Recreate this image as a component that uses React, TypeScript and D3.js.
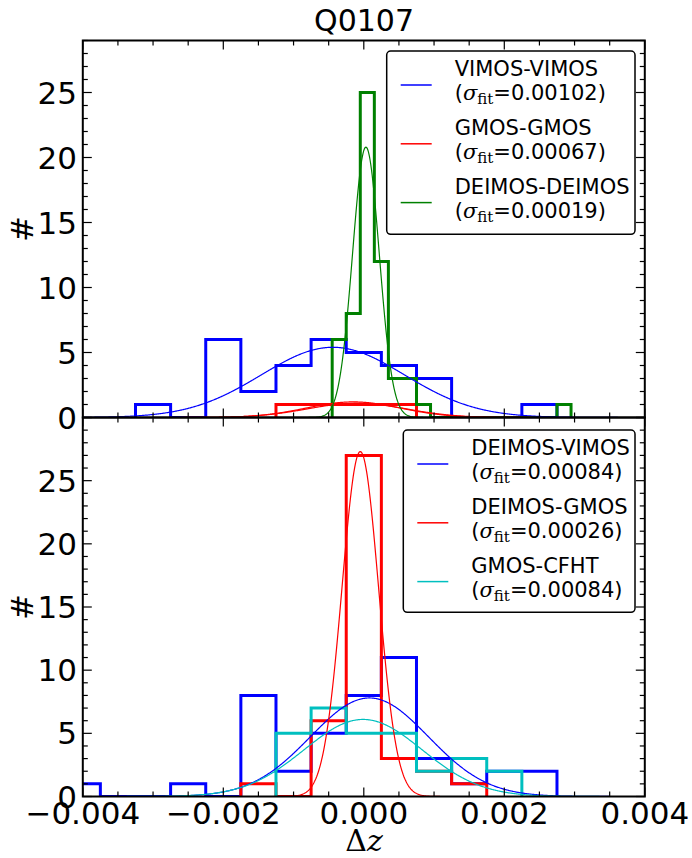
import React from 'react';
import * as d3 from 'd3';

// ---------- data ----------
const X_TICKS = [-0.004, -0.002, 0, 0.002, 0.004];
const X_TICK_LABELS = ['\u22120.004', '\u22120.002', '0.000', '0.002', '0.004'];
const Y_TICKS = [0, 5, 10, 15, 20, 25];
const Y_TICK_LABELS = ['0', '5', '10', '15', '20', '25'];

// top panel histograms (start edge, bin width, counts)
const vvStart = -0.00325;
const vvWidth = 0.0005;
const vvCounts = [1, 0, 6, 2, 4, 6, 5, 4, 3, 0, 0, 1];
const ggStart = -0.00125;
const ggWidth = 0.0005;
const ggCounts = [1, 1, 1, 1];
const ddStart = -0.00045;
const ddWidth = 0.0002;
const ddCounts = [6, 8, 25, 12, 3, 3, 1, 0, 0, 0, 0, 0, 0, 0, 0, 0, 1];

// bottom panel histograms
const dvStart = -0.00425;
const dvWidth = 0.0005;
const dvCounts = [1, 0, 0, 1, 0, 8, 2, 5, 8, 11, 3, 1, 2, 2];
const dgStart = -0.00175;
const dgWidth = 0.0005;
const dgCounts = [1, 0, 6, 27, 3, 2, 1];
const gcStart = -0.00125;
const gcWidth = 0.0005;
const gcCounts = [5, 7, 5, 5, 2, 3, 2];

// gaussian fit parameters
const topFitAmp = [5.4, 1.2, 1.1, 20.8];
const topFitMu = [-0.00044, -0.00015, -0.0001, 0.00003];
const topFitSigma = [0.00102, 0.00067, 0.0007, 0.00019];
const botFitAmp = [7.8, 27.3, 6.1];
const botFitMu = [0.00008, -0.00005, -0.00001];
const botFitSigma = [0.00084, 0.00026, 0.00084];

const topLegendNames = ['VIMOS-VIMOS', 'GMOS-GMOS', 'DEIMOS-DEIMOS'];
const topLegendSigma = ['0.00102', '0.00067', '0.00019'];
const botLegendNames = ['DEIMOS-VIMOS', 'DEIMOS-GMOS', 'GMOS-CFHT'];
const botLegendSigma = ['0.00084', '0.00026', '0.00084'];

const BLUE = '#0000ff';
const RED = '#ff0000';
const GREEN = '#008000';
const CYAN = '#00bfbf';

// ---------- layout ----------
const W = 692;
const H = 858;
const X0 = 82.8;
const X1 = 644.8;
const TOP_Y0 = 40.5;
const MID_Y = 417.5;
const BOT_Y1 = 796.5;
const SANS = 'DejaVu Sans, Liberation Sans, sans-serif';
const SERIF = 'DejaVu Serif, Liberation Serif, serif';

const x = d3.scaleLinear().domain([-0.004, 0.004]).range([X0, X1]);
const yTop = d3.scaleLinear().domain([0, 29]).range([MID_Y, TOP_Y0]);
const yBot = d3.scaleLinear().domain([0, 30]).range([BOT_Y1, MID_Y]);

function stepPath(start: number, width: number, counts: number[], y: d3.ScaleLinear<number, number>) {
  const pts: [number, number][] = [];
  pts.push([start, 0]);
  counts.forEach((c, i) => {
    pts.push([start + i * width, c]);
    pts.push([start + (i + 1) * width, c]);
  });
  pts.push([start + counts.length * width, 0]);
  const line = d3.line<[number, number]>().x((d) => x(d[0])).y((d) => y(d[1]));
  return line(pts) || '';
}

function gaussPath(a: number, mu: number, s: number, y: d3.ScaleLinear<number, number>) {
  const xs = d3.range(0, 801).map((i) => -0.004 + (i * 0.008) / 800);
  const line = d3
    .line<number>()
    .x((v) => x(v))
    .y((v) => y(a * Math.exp(-((v - mu) * (v - mu)) / (2 * s * s))))
    .curve(d3.curveLinear);
  return line(xs) || '';
}

function Frame({ y0, y1, yScale, showYLabels }: { y0: number; y1: number; yScale: d3.ScaleLinear<number, number>; showYLabels: boolean }) {
  const xMinor = d3.range(-0.004, 0.00401, 0.0005).map((v) => Math.round(v * 1e5) / 1e5);
  const yMax = yScale.domain()[1];
  const yMinor = d3.range(0, Math.floor(yMax) + 1);
  const MAJ = 9;
  const MIN = 5;
  return (
    <g>
      {xMinor.map((v, i) => {
        const isMaj = X_TICKS.some((t) => Math.abs(t - v) < 1e-9);
        const len = isMaj ? MAJ : MIN;
        return (
          <g key={'xt' + i}>
            <line x1={x(v)} x2={x(v)} y1={y1} y2={y1 - len} stroke="black" strokeWidth={1.2} />
            <line x1={x(v)} x2={x(v)} y1={y0} y2={y0 + len} stroke="black" strokeWidth={1.2} />
          </g>
        );
      })}
      {yMinor.map((v, i) => {
        const isMaj = v % 5 === 0;
        const len = isMaj ? MAJ : MIN;
        return (
          <g key={'yt' + i}>
            <line x1={X0} x2={X0 + len} y1={yScale(v)} y2={yScale(v)} stroke="black" strokeWidth={1.2} />
            <line x1={X1} x2={X1 - len} y1={yScale(v)} y2={yScale(v)} stroke="black" strokeWidth={1.2} />
          </g>
        );
      })}
      <rect x={X0} y={y0} width={X1 - X0} height={y1 - y0} fill="none" stroke="black" strokeWidth={2} />
      {showYLabels &&
        Y_TICKS.map((v, i) => (
          <text
            key={'yl' + i}
            x={77}
            y={yScale(v)}
            textAnchor="end"
            dominantBaseline="central"
            fontFamily={SANS}
            fontSize={31}
          >
            {Y_TICK_LABELS[i]}
          </text>
        ))}
    </g>
  );
}

function Legend({ left, top, right, bottom, names, sigmas, colors }: { left: number; top: number; right: number; bottom: number; names: string[]; sigmas: string[]; colors: string[] }) {
  const entryGap = 58.8;
  return (
    <g>
      <rect x={left} y={top} width={right - left} height={bottom - top} rx={4} ry={4} fill="white" stroke="black" strokeWidth={1.5} />
      {names.map((n, i) => {
        const cy = top + 34 + i * entryGap;
        return (
          <g key={n}>
            <line x1={left + 14} x2={left + 45} y1={cy} y2={cy} stroke={colors[i]} strokeWidth={1.5} />
            <text x={left + 68} y={cy - 9} fontFamily={SANS} fontSize={21}>
              {n}
            </text>
            <text x={left + 68} y={cy + 15} fontFamily={SANS} fontSize={21}>
              <tspan>(</tspan>
              <tspan fontFamily={SERIF} fontStyle="italic">σ</tspan>
              <tspan fontFamily={SERIF} fontSize={15} dy={4}>fit</tspan>
              <tspan dy={-4}>={sigmas[i]})</tspan>
            </text>
          </g>
        );
      })}
    </g>
  );
}

export default function App() {
  return (
    <svg width={W} height={H} style={{ position: 'absolute', left: 0, top: 0, background: 'white' }}>
      <defs>
        <clipPath id="clipTop">
          <rect x={X0} y={TOP_Y0} width={X1 - X0} height={MID_Y - TOP_Y0} />
        </clipPath>
        <clipPath id="clipBot">
          <rect x={X0} y={MID_Y} width={X1 - X0} height={BOT_Y1 - MID_Y} />
        </clipPath>
      </defs>
      <rect x={0} y={0} width={W} height={H} fill="white" />

      {/* top panel */}
      <g clipPath="url(#clipTop)" fill="none">
        <path d={stepPath(vvStart, vvWidth, vvCounts, yTop)} stroke={BLUE} strokeWidth={3} strokeLinejoin="miter" />
        <path d={stepPath(ggStart, ggWidth, ggCounts, yTop)} stroke={RED} strokeWidth={3} />
        <path d={stepPath(ddStart, ddWidth, ddCounts, yTop)} stroke={GREEN} strokeWidth={3} />
        <path d={gaussPath(topFitAmp[0], topFitMu[0], topFitSigma[0], yTop)} stroke={BLUE} strokeWidth={1.2} />
        <path d={gaussPath(topFitAmp[1], topFitMu[1], topFitSigma[1], yTop)} stroke={RED} strokeWidth={1.2} />
        <path d={gaussPath(topFitAmp[2], topFitMu[2], topFitSigma[2], yTop)} stroke={RED} strokeWidth={1.2} />
        <path d={gaussPath(topFitAmp[3], topFitMu[3], topFitSigma[3], yTop)} stroke={GREEN} strokeWidth={1.2} />
      </g>

      {/* bottom panel */}
      <g clipPath="url(#clipBot)" fill="none">
        <path d={stepPath(dvStart, dvWidth, dvCounts, yBot)} stroke={BLUE} strokeWidth={3} />
        <path d={stepPath(dgStart, dgWidth, dgCounts, yBot)} stroke={RED} strokeWidth={3} />
        <path d={stepPath(gcStart, gcWidth, gcCounts, yBot)} stroke={CYAN} strokeWidth={3} />
        <path d={gaussPath(botFitAmp[0], botFitMu[0], botFitSigma[0], yBot)} stroke={BLUE} strokeWidth={1.2} />
        <path d={gaussPath(botFitAmp[1], botFitMu[1], botFitSigma[1], yBot)} stroke={RED} strokeWidth={1.2} />
        <path d={gaussPath(botFitAmp[2], botFitMu[2], botFitSigma[2], yBot)} stroke={CYAN} strokeWidth={1.2} />
      </g>

      <Frame y0={TOP_Y0} y1={MID_Y} yScale={yTop} showYLabels={true} />
      <Frame y0={MID_Y} y1={BOT_Y1} yScale={yBot} showYLabels={true} />

      <Legend left={386.7} top={51} right={635} bottom={234.3} names={topLegendNames} sigmas={topLegendSigma} colors={[BLUE, RED, GREEN]} />
      <Legend left={403.3} top={430} right={635} bottom={612.3} names={botLegendNames} sigmas={botLegendSigma} colors={[BLUE, RED, CYAN]} />

      {/* x tick labels */}
      {X_TICKS.map((v, i) => (
        <text key={'xl' + i} x={x(v)} y={824} textAnchor="middle" fontFamily={SANS} fontSize={31}>
          {X_TICK_LABELS[i]}
        </text>
      ))}

      {/* axis labels */}
      <text x={364} y={851} textAnchor="middle" fontFamily={SERIF} fontSize={30}>
        <tspan>Δ</tspan>
        <tspan fontStyle="italic">z</tspan>
      </text>
      <text transform={`translate(33, ${(TOP_Y0 + MID_Y) / 2}) rotate(-90)`} textAnchor="middle" fontFamily={SANS} fontSize={31}>
        #
      </text>
      <text transform={`translate(33, ${(MID_Y + BOT_Y1) / 2}) rotate(-90)`} textAnchor="middle" fontFamily={SANS} fontSize={31}>
        #
      </text>

      {/* title */}
      <text x={364} y={31} textAnchor="middle" fontFamily={SANS} fontSize={30}>
        Q0107
      </text>
    </svg>
  );
}
